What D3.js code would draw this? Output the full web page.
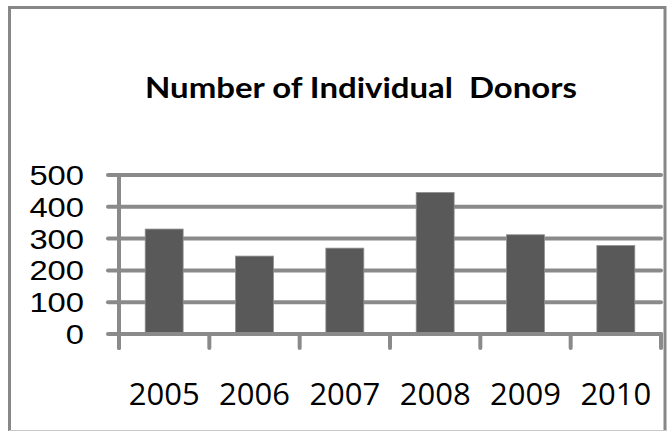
<!DOCTYPE html>
<html>
<head>
<meta charset="utf-8">
<script src="https://cdn.jsdelivr.net/npm/d3@7"></script>
<style>
  html, body { margin: 0; padding: 0; background: #fff; }
  svg { display: block; }
</style>
</head>
<body>
<svg id="chart" width="668" height="432"></svg>
<script>
const categories = ["2005", "2006", "2007", "2008", "2009", "2010"];
const donors = [330, 245, 270, 445, 312, 278];
const yTicks = [0, 100, 200, 300, 400, 500];
const title = "Number of Individual\u00A0 Donors";

const svg = d3.select("#chart");
const plot = { left: 119, right: 661, top: 175, bottom: 334 };

// outer frame
const frame = svg.append("g");
frame.append("path")
  .attr("d", `M9.5,431 L9.5,7.5 L665,7.5 L665,431`)
  .attr("fill", "none").attr("stroke", "#878787").attr("stroke-width", 3);
frame.append("line")
  .attr("x1", 9).attr("x2", 666).attr("y1", 430.5).attr("y2", 430.5)
  .attr("stroke", "#c8c8c8").attr("stroke-width", 1);

// title
svg.append("text")
  .attr("x", 361).attr("y", 98)
  .attr("text-anchor", "middle")
  .attr("font-family", "Lato, 'Open Sans', sans-serif")
  .attr("font-weight", "bold")
  .attr("font-size", 28)
  .attr("textLength", 432)
  .attr("lengthAdjust", "spacingAndGlyphs")
  .attr("fill", "#000")
  .text(title);

const x = d3.scaleBand().domain(categories)
  .range([plot.left, plot.right]).paddingInner(0.58).paddingOuter(0.29);
const xb = d3.scaleBand().domain(categories).range([plot.left, plot.right]);
const y = d3.scaleLinear().domain([0, 500]).range([plot.bottom, plot.top]);

const gridColor = "#8a8a8a";

// gridlines (extend left past axis as tick marks)
svg.append("g").selectAll("line").data(yTicks.filter(d => d > 0)).join("line")
  .attr("x1", 108).attr("x2", plot.right)
  .attr("y1", d => y(d)).attr("y2", d => y(d))
  .attr("stroke", gridColor).attr("stroke-width", 4).attr("stroke-linecap", "round");

// bars
svg.append("g").selectAll("rect").data(categories).join("rect")
  .attr("x", d => x(d))
  .attr("width", x.bandwidth())
  .attr("y", (d, i) => y(donors[i]))
  .attr("height", (d, i) => y(0) - y(donors[i]))
  .attr("fill", "#595959")
  .attr("stroke", "#8f8f8f").attr("stroke-width", 0.8);

// y axis line
svg.append("line")
  .attr("x1", plot.left).attr("x2", plot.left)
  .attr("y1", plot.top + 1).attr("y2", 348)
  .attr("stroke", gridColor).attr("stroke-width", 4).attr("stroke-linecap", "round");

// x axis line
svg.append("line")
  .attr("x1", 108).attr("x2", plot.right)
  .attr("y1", y(0)).attr("y2", y(0))
  .attr("stroke", gridColor).attr("stroke-width", 4).attr("stroke-linecap", "round");

// x tick marks at category boundaries
const boundaries = categories.map(c => xb(c)).concat([plot.right]);
svg.append("g").selectAll("line").data(boundaries).join("line")
  .attr("x1", d => d).attr("x2", d => d)
  .attr("y1", y(0)).attr("y2", 348)
  .attr("stroke", gridColor).attr("stroke-width", 4).attr("stroke-linecap", "round");

// y tick labels
svg.append("g").selectAll("text").data(yTicks).join("text")
  .attr("x", 84).attr("y", d => y(d))
  .attr("dy", "0.36em")
  .attr("text-anchor", "end")
  .attr("font-family", "'Liberation Sans', sans-serif")
  .attr("font-size", 28)
  .attr("textLength", d => String(d).length * 18.2)
  .attr("lengthAdjust", "spacingAndGlyphs")
  .attr("fill", "#000")
  .text(d => d);

// x tick labels
svg.append("g").selectAll("text").data(categories).join("text")
  .attr("x", d => xb(d) + xb.bandwidth() / 2)
  .attr("y", 405)
  .attr("text-anchor", "middle")
  .attr("font-family", "'Open Sans', sans-serif")
  .attr("font-size", 31)
  .attr("fill", "#000")
  .text(d => d);
</script>
</body>
</html>
